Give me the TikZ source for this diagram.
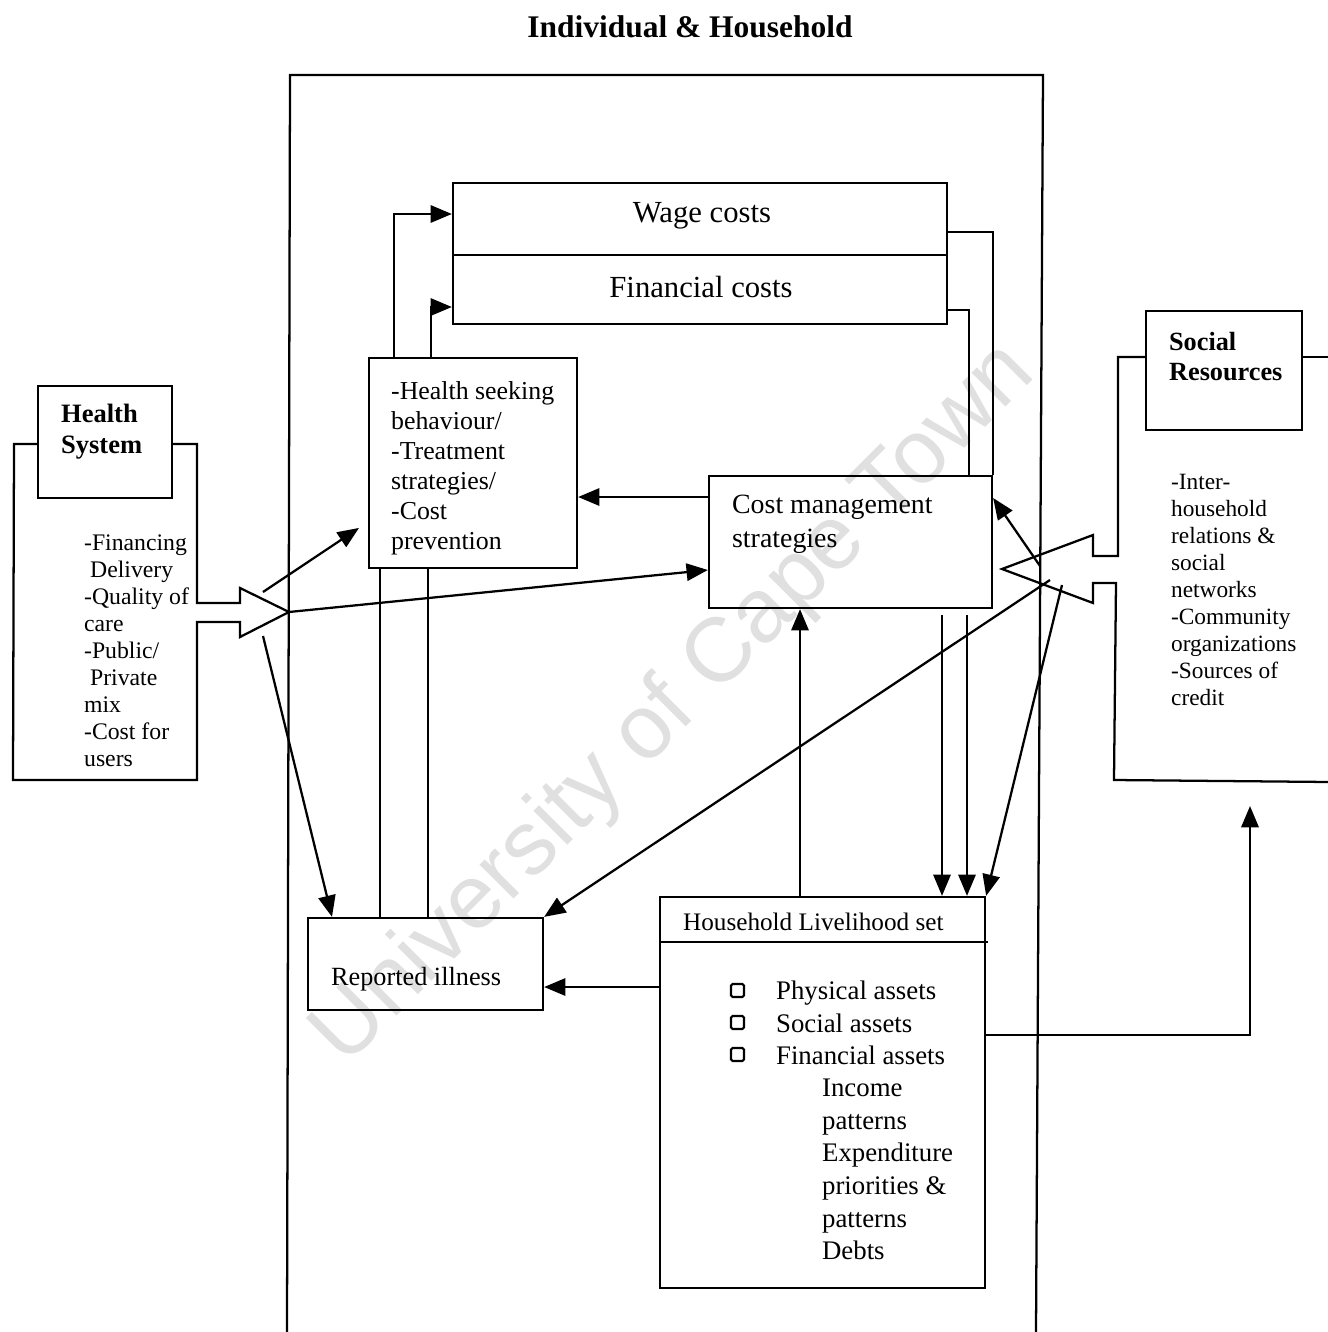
\documentclass[tikz,border=0pt]{standalone}
\usepackage{fontspec}
\setmainfont{Liberation Serif}
\newfontfamily\wmfont{Liberation Sans}
\usetikzlibrary{arrows.meta,fit,calc}
\begin{document}
\begin{tikzpicture}[x=0.75pt,y=-0.75pt, line width=1.7pt,
  box/.style={draw, inner sep=0pt},
  arr/.style={-{Triangle[length=16pt,width=13pt]}},
  txt/.style={inner sep=0pt, align=left, anchor=north west},
  cbox/.style={line width=1.6pt, rounded corners=1.2pt}]
\fill[white] (0,0) rectangle (1328,1332);
\useasboundingbox (0,0) rectangle (1328,1332);
% watermark
\node[rotate=45, text=black!12, inner sep=0pt, font=\wmfont\fontsize{68}{68}\selectfont] (wm) at (675,705) {University of Cape Town};
% title
\node[inner sep=0pt, font=\fontsize{23.6}{28}\selectfont\bfseries] (title) at (690,27) {Individual \& Household};
% outer frame
\draw (287,1332) -- (290,75) -- (1043,75) -- (1036,1332);
% boxes
\node[box, fit={(453,183) (947,255)}] (wage) {};
\node[box, fit={(453,255) (947,324)}] (fin) {};
\node[box, fit={(369,358) (577,568)}] (hsb) {};
\node[box, fit={(709,476) (992,608)}] (cms) {};
\node[box, fit={(38,386) (172,498)}] (hs) {};
\node[box, fit={(1146,311) (1302,430)}] (sr) {};
\node[box, fit={(308,918) (543,1010)}] (ri) {};
\node[box, fit={(660,897) (985,1288)}] (hls) {};
\draw (hls.west |- 0,942) -- (988,942);
% texts
\node[inner sep=0pt, font=\fontsize{23}{27}\selectfont] (wt) at (702,216) {Wage costs};
\node[inner sep=0pt, font=\fontsize{23}{27}\selectfont] (ft) at (701,287) {Financial costs};
\node[txt, font=\fontsize{19.4}{22.5}\selectfont] (hsbt) at (390,377.5) {\strut-Health seeking\\behaviour/\\-Treatment\\strategies/\\-Cost\\prevention};
\node[txt, font=\fontsize{20.9}{25.5}\selectfont] (cmst) at (731,489) {\strut Cost management\\strategies};
\node[txt, font=\fontsize{19.9}{23.25}\selectfont\bfseries] (hst) at (60,400) {\strut Health\\System};
\node[txt, font=\fontsize{19.7}{22.5}\selectfont\bfseries] (srt) at (1168,328) {\strut Social\\Resources};
\node[txt, font=\fontsize{17.8}{20.25}\selectfont] (hsl) at (83,530) {\strut-Financing\\\hspace*{4.5pt}Delivery\\-Quality of\\care\\-Public/\\\hspace*{4.5pt}Private\\mix\\-Cost for\\users};
\node[txt, font=\fontsize{17.5}{20.25}\selectfont] (srl) at (1170,469) {\strut-Inter-\\household\\relations \&\\social\\networks\\-Community\\organizations\\-Sources of\\credit};
\node[inner sep=0pt, anchor=west, font=\fontsize{19.7}{23}\selectfont] (rit) at (330,979) {Reported illness};
\node[inner sep=0pt, anchor=west, font=\fontsize{18.9}{23}\selectfont] (hlst) at (682,922) {Household Livelihood set};
\node[txt, font=\fontsize{20.1}{24.4}\selectfont] (hlsa) at (775,976) {\strut Physical assets\\Social assets\\Financial assets};
\node[txt, font=\fontsize{20.1}{24.4}\selectfont] (hlsb) at (821,1073) {\strut Income\\patterns\\Expenditure\\priorities \&\\patterns\\Debts};
\foreach \yy in {990,1022,1054} {
  \draw[cbox] (731,\yy-6) rectangle (744,\yy+7);
}
% brackets with block arrows
\coordinate (hstip) at (289,612);
\coordinate (srtip) at (1002,569);
\draw (hs.west |- 0,444) -- (14,444) -- (13,780) -- (197,780) -- (197,622) -- (240,622) -- (240,637) -- (hstip) -- (240,588) -- (240,603) -- (197,603) -- (197,444) -- (hs.east |- 0,444);
\draw (sr.west |- 0,357) -- (1118,357) -- (1118,556) -- (1093,556) -- (1093,535) -- (srtip) -- (1093,603) -- (1093,583) -- (1116,583) -- (1114,780) -- (1330,782);
\draw (sr.east |- 0,357) -- (1330,357);
% connectors
\draw[arr] (394,0 |- hsb.north) |- (wage.west |- 0,214);
\draw[arr] (431,0 |- hsb.north) |- (fin.west |- 0,307);
\draw (wage.east |- 0,232) -| (cms.north east);
\draw (fin.east |- 0,310) -| (969,0 |- cms.north);
\coordinate (d1) at (942,615);
\coordinate (d2) at (967,615);
\draw[arr] (d1) -- (d1 |- hls.north);
\draw[arr] (d2) -- (d2 |- hls.north);
\draw[arr] (cms.west |- 0,497) -- (hsb.east |- 0,497);
\draw[arr] (800,0 |- hls.north) -- (800,0 |- cms.south);
\draw[arr] (hls.west |- 0,987) -- (ri.east |- 0,987);
\draw (380,0 |- ri.north) -- (380,0 |- hsb.south);
\draw (428,0 |- ri.north) -- (428,0 |- hsb.south);
\coordinate (h1) at (263,592);
\coordinate (h2) at (263,636);
\draw[arr, shorten >=8pt] (h1) -- (hsb.west |- 0,522);
\draw[arr] (hstip) -- (cms.west |- 0,570);
\draw[arr] (h2) -- (332,0 |- ri.north);
\coordinate (s1) at (1040,566);
\coordinate (s2) at (1050,580);
\coordinate (s3) at (1062,585);
\draw[arr] (s1) -- (cms.east |- 0,498);
\draw[arr] (s2) -- (ri.north east);
\draw[arr] (s3) -- (hls.north east);
\coordinate (srb) at (1250,806);
\draw[arr] (hls.east |- 0,1035) -| (srb);
\end{tikzpicture}
\end{document}
